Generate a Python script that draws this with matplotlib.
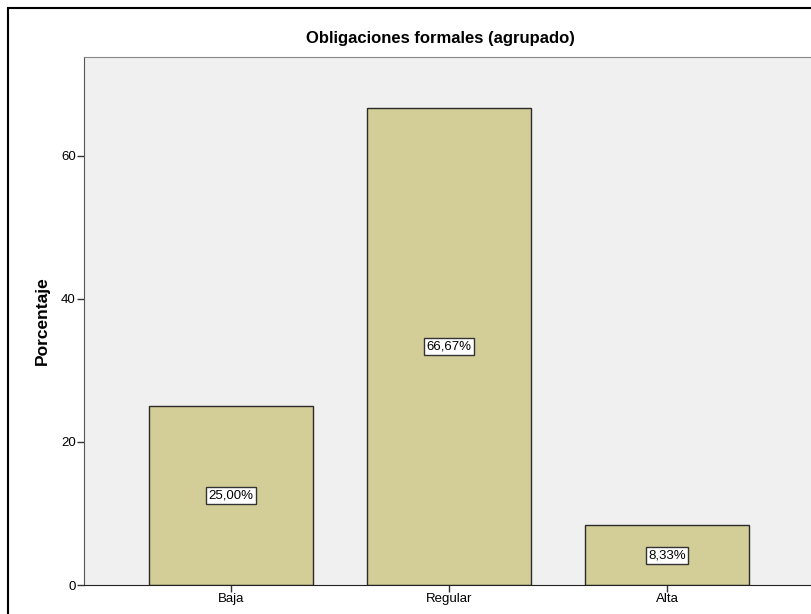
import matplotlib.pyplot as plt
from matplotlib.patches import Rectangle

# data
categorias = ['Baja', 'Regular', 'Alta']
porcentajes = [25.00, 66.67, 8.33]
etiquetas = ['25,00%', '66,67%', '8,33%']

plt.rcParams['font.family'] = ['Liberation Sans', 'DejaVu Sans']

W, H = 811, 614
fig = plt.figure(figsize=(W / 100, H / 100), dpi=100)

# outer frame (cropped at right/bottom)
fig.patches.append(Rectangle((8 / W, -0.05), 1.2, (H - 8) / H + 0.05,
                             transform=fig.transFigure, fill=False,
                             edgecolor='black', linewidth=1.5))

# plot area: left 84px, right ~814px, top 57px, bottom 585px
ax = fig.add_axes([84 / W, (H - 585) / H, (814 - 84) / W, (585 - 57) / H])
ax.set_facecolor('#F0F0F0')

x = range(len(categorias))
ax.bar(x, porcentajes, width=0.752, color='#D3CE97', edgecolor='#2b2b2b',
       linewidth=1.0, zorder=2)

for i, (v, lab) in enumerate(zip(porcentajes, etiquetas)):
    ax.text(i, v / 2, lab, ha='center', va='center', fontsize=9.5,
            bbox=dict(boxstyle='square,pad=0.2', facecolor='white',
                      edgecolor='#333333', linewidth=1.0), zorder=3)

ax.set_xlim(-0.674, 2.674)
ax.set_ylim(0, 73.8)
ax.set_yticks([0, 20, 40, 60])
ax.set_xticks(list(x))
ax.set_xticklabels(categorias)
ax.tick_params(axis='both', direction='out', length=5, width=1,
               labelsize=9.5, color='#333333', pad=1)

ax.spines['left'].set_color('#555555')
ax.spines['top'].set_color('#888888')
ax.spines['bottom'].set_color('#222222')
ax.spines['right'].set_visible(False)

ax.set_ylabel('Porcentaje', fontsize=12.5, fontweight='bold', labelpad=8)
fig.text(440 / W, 1 - 39 / H, 'Obligaciones formales (agrupado)',
         ha='center', va='center', fontsize=12, fontweight='bold')

fig.savefig('out.png', dpi=100)
